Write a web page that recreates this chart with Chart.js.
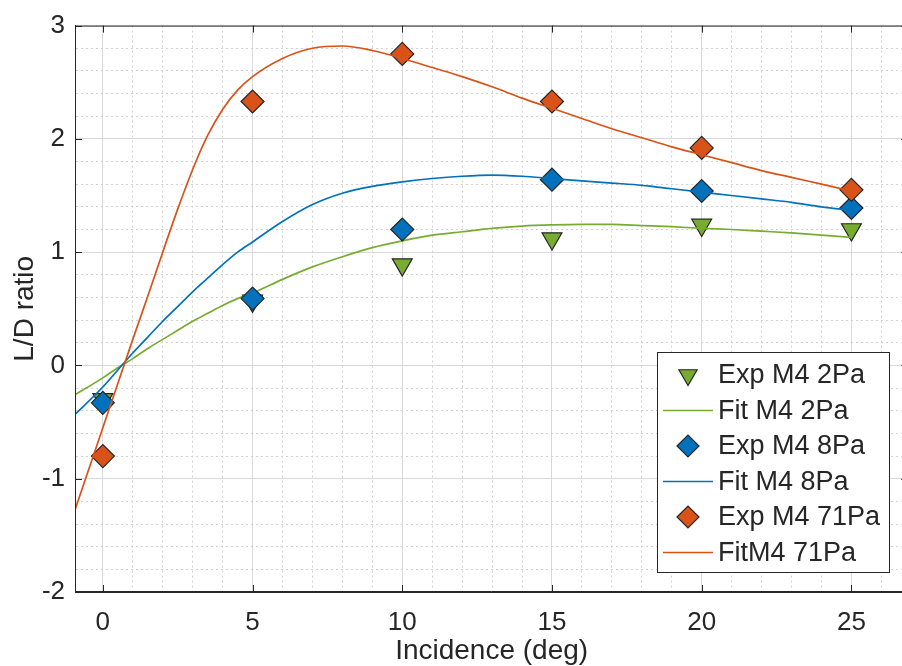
<!DOCTYPE html>
<html>
<head>
<meta charset="utf-8">
<script src="https://cdn.jsdelivr.net/npm/chart.js@4.4.1/dist/chart.umd.min.js"></script>
<style>
  html, body { margin: 0; padding: 0; background: #fff; overflow: hidden; }
  #wrap { width: 902px; height: 666px; overflow: hidden; }
</style>
</head>
<body>
<div id="wrap"><canvas id="ldChart" width="921" height="666"></canvas></div>
<script>
// measured points
const incidence = [0, 5, 10, 15, 20, 25];
const exp2Pa  = [-0.30, 0.57, 0.89, 1.12, 1.24, 1.20];
const exp8Pa  = [-0.33, 0.59, 1.20, 1.64, 1.54, 1.39];
const exp71Pa = [-0.80, 2.33, 2.75, 2.33, 1.92, 1.55];

// fitted curves
const fitX = [-1, 0, 0.5, 1, 1.5, 2, 2.5, 3, 3.5, 4, 4.5, 5, 6, 7, 8, 9, 10, 11, 12, 13, 14, 15, 16, 17, 18, 19, 20, 21, 22, 23, 24, 25];
const fit2Pa  = [-0.27, -0.11, -0.02, 0.06, 0.15, 0.23, 0.31, 0.39, 0.46, 0.53, 0.59, 0.64, 0.76, 0.87, 0.96, 1.04, 1.10, 1.15, 1.18, 1.21, 1.23, 1.24, 1.245, 1.245, 1.235, 1.225, 1.21, 1.20, 1.185, 1.17, 1.15, 1.13];
const fit8Pa  = [-0.45, -0.19, -0.04, 0.11, 0.25, 0.39, 0.52, 0.65, 0.77, 0.89, 1.00, 1.09, 1.27, 1.42, 1.52, 1.58, 1.62, 1.65, 1.67, 1.68, 1.67, 1.65, 1.63, 1.61, 1.59, 1.56, 1.53, 1.50, 1.47, 1.44, 1.40, 1.37];
const fit71Pa = [-1.33, -0.55, -0.16, 0.23, 0.61, 1.00, 1.38, 1.73, 2.03, 2.26, 2.43, 2.55, 2.71, 2.80, 2.82, 2.78, 2.71, 2.63, 2.55, 2.46, 2.36, 2.27, 2.18, 2.09, 2.01, 1.93, 1.86, 1.79, 1.72, 1.66, 1.60, 1.54];

// axes
const xMajorTicks = [0, 5, 10, 15, 20, 25];
const yMajorTicks = [-2, -1, 0, 1, 2, 3];

const GREEN = "#77AC30";
const BLUE = "#0072BD";
const ORANGE = "#D95319";
const EDGE = "#262626";
const FONT = "'Liberation Sans', Arial, sans-serif";

function pts(xs, ys) {
  return xs.map((x, i) => ({ x: x, y: ys[i] }));
}

function expSet(label, ys, color, style, rot) {
  return {
    label: label,
    data: pts(incidence, ys),
    showLine: false,
    pointStyle: style,
    rotation: rot,
    pointRadius: 11.5,
    pointHoverRadius: 11.5,
    backgroundColor: color,
    borderColor: EDGE,
    borderWidth: 1.2
  };
}

function fitSet(label, ys, color) {
  return {
    label: label,
    data: pts(fitX, ys),
    showLine: true,
    pointRadius: 0,
    borderColor: color,
    backgroundColor: color,
    borderWidth: 1.7,
    cubicInterpolationMode: "monotone",
    fill: false
  };
}

const datasets = [
  expSet("Exp M4 2Pa", exp2Pa, GREEN, "triangle", 180),
  fitSet("Fit M4 2Pa", fit2Pa, GREEN),
  expSet("Exp M4 8Pa", exp8Pa, BLUE, "rectRot", 0),
  fitSet("Fit M4 8Pa", fit8Pa, BLUE),
  expSet("Exp M4 71Pa", exp71Pa, ORANGE, "rectRot", 0),
  fitSet("FitM4 71Pa", fit71Pa, ORANGE)
];
// later series sit on top, like the original plot
datasets.forEach((d, i) => { d.order = datasets.length - i; });

function isMajor(list, v) {
  return list.some(t => Math.abs(t - v) < 1e-6);
}

// frame, inward ticks and the boxed legend
const framePlugin = {
  id: "frame",
  afterDraw(chart) {
    const ctx = chart.ctx;
    const a = chart.chartArea;
    const xs = chart.scales.x, ys = chart.scales.y;
    ctx.save();
    ctx.strokeStyle = EDGE;
    ctx.lineWidth = 1;
    ctx.beginPath();
    ctx.rect(a.left + 0.5, a.top + 0.5, a.right - a.left - 1, a.bottom - a.top - 1);
    xMajorTicks.forEach(v => {
      const px = Math.round(xs.getPixelForValue(v)) + 0.5;
      ctx.moveTo(px, a.bottom); ctx.lineTo(px, a.bottom - 7);
      ctx.moveTo(px, a.top); ctx.lineTo(px, a.top + 7);
    });
    yMajorTicks.forEach(v => {
      const py = Math.round(ys.getPixelForValue(v)) + 0.5;
      ctx.moveTo(a.left, py); ctx.lineTo(a.left + 7, py);
      ctx.moveTo(a.right, py); ctx.lineTo(a.right - 7, py);
    });
    ctx.stroke();

    // legend
    const box = { x: 657.5, y: 352.5, w: 232, h: 220 };
    ctx.fillStyle = "#fff";
    ctx.fillRect(box.x, box.y, box.w, box.h);
    ctx.strokeStyle = EDGE;
    ctx.strokeRect(box.x, box.y, box.w, box.h);
    ctx.font = "27px " + FONT;
    ctx.textBaseline = "middle";
    ctx.textAlign = "left";
    chart.data.datasets.forEach((d, i) => {
      const cy = 375 + i * 35.5;
      if (d.showLine) {
        ctx.strokeStyle = d.borderColor;
        ctx.lineWidth = d.borderWidth;
        ctx.beginPath();
        ctx.moveTo(663, cy); ctx.lineTo(713, cy);
        ctx.stroke();
      } else {
        ctx.fillStyle = d.backgroundColor;
        ctx.strokeStyle = d.borderColor;
        ctx.lineWidth = d.borderWidth;
        Chart.helpers.drawPoint(ctx, {
          pointStyle: d.pointStyle,
          rotation: d.rotation,
          radius: d.pointStyle === "triangle" ? 10.5 : 11,
          borderWidth: d.borderWidth
        }, 688, cy);
      }
      ctx.fillStyle = EDGE;
      ctx.fillText(d.label, 718, cy + 1);
    });
    ctx.restore();
  }
};

new Chart(document.getElementById("ldChart").getContext("2d"), {
  type: "scatter",
  data: { datasets: datasets },
  options: {
    responsive: false,
    animation: false,
    events: [],
    layout: { padding: { top: 22, right: 1, left: 0, bottom: 0 } },
    plugins: {
      legend: { display: false },
      tooltip: { enabled: false }
    },
    scales: {
      x: {
        type: "linear",
        min: -0.93,
        max: 26.9,
        afterBuildTicks(scale) {
          const t = [];
          for (let v = 0; v <= 26; v++) t.push({ value: v });
          scale.ticks = t;
        },
        afterFit(scale) { scale.height = 74; },
        ticks: {
          autoSkip: false,
          maxRotation: 0,
          padding: 15,
          color: EDGE,
          font: { family: FONT, size: 26 },
          callback: v => isMajor(xMajorTicks, v) ? String(v) : ""
        },
        grid: {
          drawTicks: false,
          color: c => isMajor(xMajorTicks, c.tick ? c.tick.value : 0) ? "#d9d9d9" : "#d2d2d2"
        },
        border: {
          color: EDGE,
          dash: c => (!c.tick || isMajor(xMajorTicks, c.tick.value)) ? [] : [2, 3]
        },
        title: {
          display: true,
          text: "Incidence (deg)",
          color: EDGE,
          font: { family: FONT, size: 28, lineHeight: 1 },
          padding: { top: 0, bottom: 1 }
        }
      },
      y: {
        type: "linear",
        min: -2,
        max: 3,
        afterBuildTicks(scale) {
          const t = [];
          for (let i = -10; i <= 15; i++) t.push({ value: i / 5 });
          scale.ticks = t;
        },
        afterFit(scale) { scale.width = 75; },
        ticks: {
          autoSkip: false,
          padding: 10,
          color: EDGE,
          font: { family: FONT, size: 26 },
          callback: v => isMajor(yMajorTicks, v) ? String(Math.round(v)) : ""
        },
        grid: {
          drawTicks: false,
          color: c => isMajor(yMajorTicks, c.tick ? c.tick.value : 0) ? "#d9d9d9" : "#d2d2d2"
        },
        border: {
          color: EDGE,
          dash: c => (!c.tick || isMajor(yMajorTicks, c.tick.value)) ? [] : [2, 3]
        },
        title: {
          display: true,
          text: "L/D ratio",
          color: EDGE,
          font: { family: FONT, size: 28, lineHeight: 1 },
          padding: { top: 11, bottom: 0 }
        }
      }
    }
  },
  plugins: [framePlugin]
});
</script>
</body>
</html>
